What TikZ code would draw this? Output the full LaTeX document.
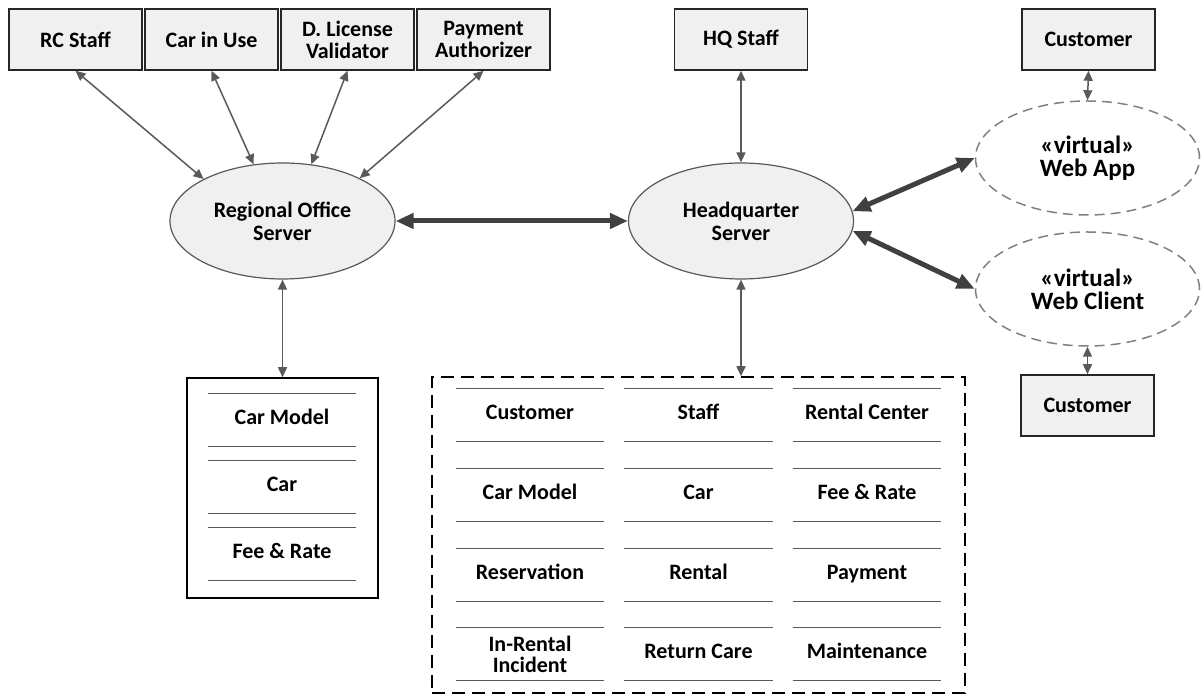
\documentclass[tikz,border=0pt]{standalone}
\usepackage{fontspec}
\setmainfont{Carlito}
\usetikzlibrary{shapes.geometric}
\usetikzlibrary{arrows.meta}
\definecolor{boxfill}{HTML}{F0F0F0}
\definecolor{linegray}{HTML}{595959}
\definecolor{trunkgray}{HTML}{404040}
\tikzstyle{actor} = [rectangle, minimum width=133pt, minimum height=61pt, inner sep=0pt, text centered, align=center, draw=black!85, fill=boxfill, line width=1.5pt, font=\fontsize{22}{22}\selectfont\bfseries]
\tikzstyle{server} = [ellipse, minimum width=225pt, minimum height=116pt, inner sep=0pt, text centered, align=center, draw=linegray, fill=boxfill, line width=1.2pt, font=\fontsize{22}{23}\selectfont\bfseries]
\tikzstyle{virtual} = [ellipse, minimum width=224pt, minimum height=114pt, inner sep=0pt, text centered, align=center, draw=black!50, dash pattern=on 10pt off 6pt, line width=1.5pt, font=\fontsize{25}{23}\selectfont\bfseries]
\tikzstyle{entity} = [rectangle, minimum width=148pt, minimum height=53pt, inner sep=0pt, text centered, align=center, text height=15pt, text depth=5pt, font=\fontsize{22}{21}\selectfont\bfseries]
\tikzstyle{rule} = [draw=linegray, line width=1.5pt]
\tikzstyle{link} = [{Triangle[length=10pt,width=9pt]}-{Triangle[length=10pt,width=9pt]}, draw=linegray, line width=1.5pt]
\tikzstyle{trunk} = [{Triangle[length=18pt,width=15pt]}-{Triangle[length=18pt,width=15pt]}, draw=trunkgray, line width=5pt]

\begin{document}
\begin{tikzpicture}[x=1pt, y=1pt, node distance=136pt]
\useasboundingbox (0,0) rectangle (1203,695);

% actors
\node (rcstaff) [actor] at (75.5,655.5) {RC Staff};
\node (carinuse) [actor, right of=rcstaff] {Car in Use};
\node (validator) [actor, right of=carinuse] {D. License\\Validator};
\node (authorizer) [actor, right of=validator] {Payment\\Authorizer};
\node (hqstaff) [actor] at (741,655.5) {HQ Staff};
\node (custweb) [actor] at (1088.5,655.5) {Customer};

% servers
\node (ros) [server] at (282.5,474) {Regional Office\\Server};
\node (hq) [server] at (741,474) {Headquarter\\Server};
\node (webapp) [virtual] at (1087.5,537) {«virtual»\\Web App};
\node (webclient) [virtual, below of=webapp, node distance=131pt] {«virtual»\\Web Client};
\node (custclient) [actor, below of=webclient, node distance=116.5pt] {Customer};

% regional office database
\node (rodb) [rectangle, draw=black, line width=1.5pt, minimum width=191pt, minimum height=220pt] at (282.5,207) {};
\node (rmodel) [entity] at (282,275) {Car Model};
\node (rcar) [entity, below of=rmodel, node distance=67pt] {Car};
\node (rfee) [entity, below of=rcar, node distance=67pt] {Fee \& Rate};

% headquarter database
\node (hqdb) [rectangle, draw=black, dash pattern=on 13pt off 7pt, line width=1.5pt, minimum width=533pt, minimum height=316pt] at (698.5,160) {};
\node (customer) [entity] at (530,280) {Customer};
\node (staff) [entity, right of=customer, node distance=168.5pt] {Staff};
\node (center) [entity, right of=staff, node distance=168.5pt] {Rental Center};
\node (model) [entity, below of=customer, node distance=80pt] {Car Model};
\node (car) [entity, right of=model, node distance=168.5pt] {Car};
\node (fee) [entity, right of=car, node distance=168.5pt] {Fee \& Rate};
\node (reservation) [entity, below of=model, node distance=80pt] {Reservation};
\node (rental) [entity, right of=reservation, node distance=168.5pt] {Rental};
\node (payment) [entity, right of=rental, node distance=168.5pt] {Payment};
\node (incident) [entity, text height=, text depth=, below of=reservation, node distance=79pt] {In-Rental\\Incident};
\node (returncare) [entity, right of=incident, node distance=168.5pt] {Return Care};
\node (maintenance) [entity, right of=returncare, node distance=168.5pt] {Maintenance};

% table rules
\draw [rule] (rmodel.north west) -- (rmodel.north east) (rmodel.south west) -- (rmodel.south east);
\draw [rule] (rcar.north west) -- (rcar.north east) (rcar.south west) -- (rcar.south east);
\draw [rule] (rfee.north west) -- (rfee.north east) (rfee.south west) -- (rfee.south east);
\draw [rule] (customer.north west) -- (customer.north east) (customer.south west) -- (customer.south east);
\draw [rule] (staff.north west) -- (staff.north east) (staff.south west) -- (staff.south east);
\draw [rule] (center.north west) -- (center.north east) (center.south west) -- (center.south east);
\draw [rule] (model.north west) -- (model.north east) (model.south west) -- (model.south east);
\draw [rule] (car.north west) -- (car.north east) (car.south west) -- (car.south east);
\draw [rule] (fee.north west) -- (fee.north east) (fee.south west) -- (fee.south east);
\draw [rule] (reservation.north west) -- (reservation.north east) (reservation.south west) -- (reservation.south east);
\draw [rule] (rental.north west) -- (rental.north east) (rental.south west) -- (rental.south east);
\draw [rule] (payment.north west) -- (payment.north east) (payment.south west) -- (payment.south east);
\draw [rule] (incident.north west) -- (incident.north east) (incident.south west) -- (incident.south east);
\draw [rule] (returncare.north west) -- (returncare.north east) (returncare.south west) -- (returncare.south east);
\draw [rule] (maintenance.north west) -- (maintenance.north east) (maintenance.south west) -- (maintenance.south east);

% connectors
\draw [link] (rcstaff.south) -- (ros.152);
\draw [link] (carinuse.south) -- (ros.117);
\draw [link] (validator.south) -- (ros.63);
\draw [link] (authorizer.south) -- (ros.29);
\draw [link] (hqstaff.south) -- (hq.north);
\draw [link] (ros.south) -- (rodb.north);
\draw [link] (hq.south) -- (hq.south |- hqdb.north);
\draw [link] (custweb.south) -- (webapp.north);
\draw [link] (webclient.south) -- (custclient.north);
\draw [trunk] (ros.east) -- (hq.west);
\draw [trunk] (hq.5) -- (webapp.west);
\draw [trunk] (hq.-5) -- (webclient.west);
\end{tikzpicture}
\end{document}
